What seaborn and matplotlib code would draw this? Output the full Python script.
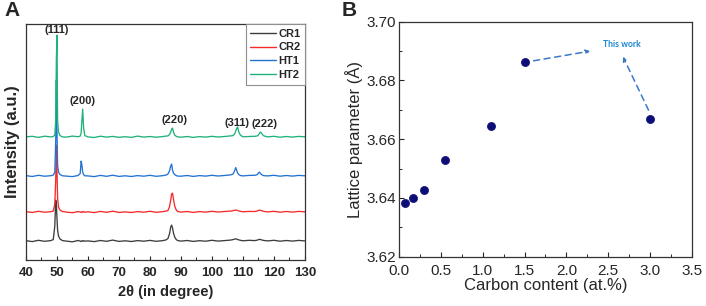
import numpy as np
import pandas as pd
import seaborn as sns
import matplotlib.pyplot as plt
from matplotlib.ticker import MultipleLocator

# ---- panel A: XRD patterns (vertices) ----
two_theta = [40, 42, 44, 46, 48,
             48.8, 49.3, 49.6, 49.8, 50.0, 50.2, 50.5, 51.0, 51.8,
             53, 55, 56.8,
             57.5, 57.8, 58.0, 58.3, 58.6, 59.0,
             60, 62, 64, 66, 68, 70, 72, 74, 76, 78, 80, 82, 84, 85.2,
             85.8, 86.3, 86.7, 87.0, 87.3, 87.6, 88.0, 88.5, 89.0,
             90, 92, 94, 96, 98, 100, 102, 104, 106,
             106.8, 107.3, 107.7, 108.0, 108.3, 108.7, 109.2,
             110, 112, 113.8,
             114.7, 115.0, 115.3, 115.6, 115.9, 116.3, 116.8,
             118, 120, 122, 124, 126, 128, 130]

cr1 = [19.5, 18.5, 19.8, 18.8, 19.5,
       20.5, 34, 60, 56, 42, 30, 24, 21, 19.5,
       19, 18.3, 19.6,
       19, 18.6, 19.4, 18.8, 19.5, 18.9,
       19.2, 18.5, 19.6, 18.8, 20.0, 18.7, 19.3, 18.6, 19.5, 18.9, 19.7, 18.8, 19.4, 20.2,
       21.5, 26, 33, 35, 32, 27, 23, 20.5, 19.5,
       19, 19.6, 18.7, 19.4, 18.9, 19.8, 19.0, 19.5, 20.0,
       20.5, 21, 21.2, 21, 20.6, 20.2, 19.8,
       19.3, 19.8, 19.5,
       20.0, 20.4, 20.8, 20.6, 20.3, 20.0, 19.6,
       19.2, 19.8, 18.9, 19.6, 19.0, 19.7, 19.2]

cr2 = [48.5, 47.6, 48.8, 47.9, 48.4,
       49, 56, 80, 115, 90, 62, 53, 50, 48.6,
       48, 47.4, 48.5,
       48.1, 47.6, 48.4, 47.8, 48.6, 47.9,
       48.3, 47.5, 48.7, 47.8, 48.9, 47.7, 48.2, 47.6, 48.5, 47.9, 48.8, 47.8, 48.4, 49.0,
       49.5, 53, 60, 66, 67, 61, 54, 50, 48.6,
       48.0, 48.6, 47.7, 48.5, 48.0, 48.8, 48.1, 48.6, 49.0,
       49.4, 49.8, 50.0, 49.9, 49.6, 49.2, 48.8,
       48.3, 48.7, 48.6,
       49.2, 49.6, 50.0, 49.8, 49.5, 49.1, 48.7,
       48.2, 48.8, 47.9, 48.6, 48.0, 48.7, 48.3]

ht1 = [84.5, 83.6, 84.8, 83.9, 84.4,
       85, 88, 120, 180, 130, 95, 88, 85.5, 84.3,
       84, 83.5, 84.6,
       86.5, 99, 96, 88, 85.5, 84.3,
       84.2, 83.5, 84.7, 83.8, 84.9, 83.7, 84.3, 83.6, 84.5, 83.9, 84.8, 83.8, 84.4, 85.0,
       86, 89, 94, 96, 90, 87, 85.5, 84.5, 84,
       83.9, 84.6, 83.7, 84.5, 84.0, 84.8, 84.1, 84.6, 85.2,
       86, 89, 92.5, 90, 87, 85.5, 84.6,
       84.2, 84.7, 84.8,
       85.5, 87, 88, 87, 85.8, 85.0, 84.4,
       84.2, 84.8, 83.9, 84.6, 84.0, 84.7, 84.3]

ht2 = [123.3, 123.8, 122.7, 123.9, 123.2,
       123.6, 125, 140, 200, 225, 140, 128, 124.5, 123.2,
       123.0, 124.0, 123.4,
       124, 127, 138, 151, 132, 124.5,
       123.2, 122.6, 123.9, 123.0, 123.7, 122.8, 123.4, 122.7, 124.0, 123.0, 123.6, 122.9, 123.5, 124.0,
       124.2, 125.5, 128, 131, 132, 128, 125, 123.8, 123.2,
       122.9, 123.6, 122.7, 123.5, 123.0, 123.8, 123.1, 123.6, 124.2,
       124.5, 126, 129, 132, 133, 128, 125,
       123.3, 123.6, 123.8,
       124.2, 125, 126.5, 128, 127.5, 125.5, 124.2,
       123.2, 123.8, 122.9, 123.6, 123.0, 123.7, 123.3]

samples = ["CR1", "CR2", "HT1", "HT2"]
sample_colors = {"CR1": "#3d3d3d", "CR2": "#f52a2a", "HT1": "#2373d1", "HT2": "#1fb27a"}

peak_labels = ["(111)", "(200)", "(220)", "(311)", "(222)"]
peak_label_x = [49.9, 58.3, 87.8, 108.2, 117.1]
peak_label_y = [230, 159, 140, 137, 136.5]

# ---- panel B: lattice parameter vs carbon content ----
carbon = [0.07, 0.16, 0.30, 0.55, 1.10, 1.50, 3.00]
lattice = [3.6384, 3.6399, 3.6428, 3.6529, 3.6645, 3.6863, 3.6670]

sns.set_style("ticks")
plt.rcParams["font.family"] = ["Liberation Sans", "DejaVu Sans"]
plt.rcParams["axes.edgecolor"] = "#333333"
plt.rcParams["axes.linewidth"] = 0.9

xrd = pd.DataFrame({
    "two_theta": two_theta * 4,
    "intensity": cr1 + cr2 + ht1 + ht2,
    "sample": np.repeat(samples, len(two_theta)),
})

fig = plt.figure(figsize=(7.06, 3.06), dpi=100)
ax1 = fig.add_axes([0.0368, 0.150, 0.395, 0.7712])
ax2 = fig.add_axes([0.5655, 0.161, 0.4143, 0.768])

sns.lineplot(data=xrd, x="two_theta", y="intensity", hue="sample",
             palette=sample_colors, estimator=None, sort=False, lw=0.95, ax=ax1)
ax1.set_xlim(40, 130)
ax1.set_ylim(0, 236)
ax1.xaxis.set_major_locator(MultipleLocator(10))
ax1.xaxis.set_minor_locator(MultipleLocator(5))
ax1.set_yticks([])
ax1.tick_params(axis="x", which="both", direction="in", top=False, pad=5, labelsize=9.5)
ax1.tick_params(axis="x", which="major", length=3, width=0.8)
ax1.tick_params(axis="x", which="minor", length=2, width=0.7)
for lab in ax1.get_xticklabels():
    lab.set_fontweight("bold")
ax1.set_xlabel("2θ (in degree)", fontsize=10.5, fontweight="bold", labelpad=4)
ax1.set_ylabel("Intensity (a.u.)", fontsize=12, fontweight="bold", labelpad=4)
for sp in ax1.spines.values():
    sp.set_visible(True)

for txt, px, py in zip(peak_labels, peak_label_x, peak_label_y):
    ax1.text(px, py, txt, ha="center", va="center", fontsize=8, fontweight="bold")

handles, labels = ax1.get_legend_handles_labels()
leg = ax1.legend(handles, labels, loc="upper right", bbox_to_anchor=(1.0, 1.0),
                 borderaxespad=0.0, frameon=True, fancybox=False, framealpha=1,
                 edgecolor="#8f8f8f", handlelength=2.3, handletextpad=0.2,
                 labelspacing=0.35, borderpad=0.4, prop={"weight": "bold", "size": 8})
leg.get_frame().set_linewidth(0.8)
for line in leg.get_lines():
    line.set_linewidth(1.0)

sns.scatterplot(x=carbon, y=lattice, color="#0d0d78", s=34, edgecolor="#0d0d78",
                linewidth=0.5, zorder=3, ax=ax2)
ax2.set_xlim(0, 3.5)
ax2.set_ylim(3.62, 3.70)
ax2.xaxis.set_major_locator(MultipleLocator(0.5))
ax2.xaxis.set_minor_locator(MultipleLocator(0.25))
ax2.yaxis.set_major_locator(MultipleLocator(0.02))
ax2.yaxis.set_minor_locator(MultipleLocator(0.01))
ax2.xaxis.set_major_formatter(plt.FuncFormatter(lambda v, p: f"{v:.1f}"))
ax2.yaxis.set_major_formatter(plt.FuncFormatter(lambda v, p: f"{v:.2f}"))
ax2.tick_params(which="both", direction="in", top=False, right=False, labelsize=11)
ax2.tick_params(axis="x", pad=5)
ax2.tick_params(axis="y", pad=2.5)
ax2.tick_params(which="major", length=3.5, width=0.8)
ax2.tick_params(which="minor", length=2, width=0.7)
ax2.set_xlabel("Carbon content (at.%)", fontsize=12, labelpad=0)
ax2.set_ylabel("Lattice parameter (Å)", fontsize=12, labelpad=2)
for sp in ax2.spines.values():
    sp.set_visible(True)

arrow_color = "#3a78c8"
ax2.annotate("", xy=(2.285, 3.6900), xytext=(1.607, 3.6867),
             arrowprops=dict(arrowstyle="-|>", linestyle=(0, (4, 3)), color=arrow_color,
                             lw=1.1, mutation_scale=6, shrinkA=0, shrinkB=0))
ax2.annotate("", xy=(2.677, 3.6881), xytext=(2.983, 3.6699),
             arrowprops=dict(arrowstyle="-|>", linestyle=(0, (4, 3)), color=arrow_color,
                             lw=1.1, mutation_scale=6, shrinkA=0, shrinkB=0))
ax2.text(2.668, 3.6924, "This work", ha="center", va="center", fontsize=6.2,
         fontweight="bold", color="#1a86d2", family=["Lato", "DejaVu Sans"])

fig.text(0.006, 0.965, "A", fontsize=15, fontweight="bold", va="center", ha="left")
fig.text(0.484, 0.965, "B", fontsize=15, fontweight="bold", va="center", ha="left")

fig.savefig("out.png", dpi=100)
